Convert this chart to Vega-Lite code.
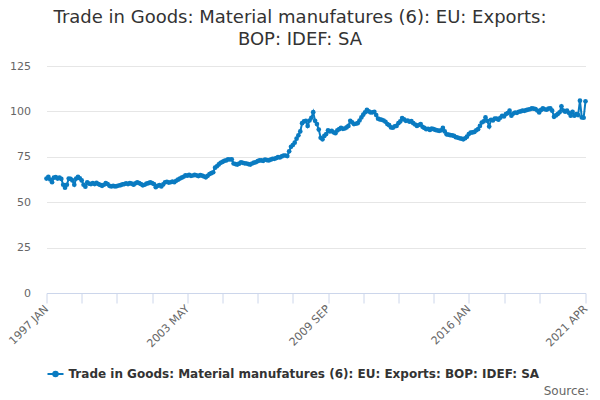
{
  "$schema": "https://vega.github.io/schema/vega-lite/v6.json",
  "width": 539,
  "height": 227,
  "autosize": "none",
  "padding": {"left": 46.5, "top": 66, "right": 14.5, "bottom": 107},
  "background": "white",
  "title": {
    "text": ["Trade in Goods: Material manufatures (6): EU: Exports:", "BOP: IDEF: SA"],
    "anchor": "middle",
    "frame": "group",
    "dx": -16,
    "offset": 11,
    "font": "DejaVu Sans",
    "fontSize": 18,
    "fontWeight": "normal",
    "color": "#333333",
    "lineHeight": 22
  },
  "data": {
    "values": [
      {"month": "1997 JAN", "value": 63}, {"month": "1997 FEB", "value": 64}, {"month": "1997 MAR", "value": 62.5}, {"month": "1997 APR", "value": 61},
      {"month": "1997 MAY", "value": 63.5}, {"month": "1997 JUN", "value": 63.8}, {"month": "1997 JUL", "value": 63}, {"month": "1997 AUG", "value": 63.5},
      {"month": "1997 SEP", "value": 62.8}, {"month": "1997 OCT", "value": 59.6}, {"month": "1997 NOV", "value": 58}, {"month": "1997 DEC", "value": 59.6},
      {"month": "1998 JAN", "value": 63}, {"month": "1998 FEB", "value": 62.8}, {"month": "1998 MAR", "value": 62}, {"month": "1998 APR", "value": 59.6},
      {"month": "1998 MAY", "value": 63}, {"month": "1998 JUN", "value": 64}, {"month": "1998 JUL", "value": 63.2}, {"month": "1998 AUG", "value": 62},
      {"month": "1998 SEP", "value": 59.6}, {"month": "1998 OCT", "value": 58.5}, {"month": "1998 NOV", "value": 61}, {"month": "1998 DEC", "value": 60.2},
      {"month": "1999 JAN", "value": 60}, {"month": "1999 FEB", "value": 60.5}, {"month": "1999 MAR", "value": 60}, {"month": "1999 APR", "value": 60.6},
      {"month": "1999 MAY", "value": 60}, {"month": "1999 JUN", "value": 59.5}, {"month": "1999 JUL", "value": 59}, {"month": "1999 AUG", "value": 59.6},
      {"month": "1999 SEP", "value": 60.5}, {"month": "1999 OCT", "value": 60}, {"month": "1999 NOV", "value": 59}, {"month": "1999 DEC", "value": 58.7},
      {"month": "2000 JAN", "value": 59}, {"month": "2000 FEB", "value": 58.7}, {"month": "2000 MAR", "value": 58.9}, {"month": "2000 APR", "value": 59.2},
      {"month": "2000 MAY", "value": 59.4}, {"month": "2000 JUN", "value": 59.8}, {"month": "2000 JUL", "value": 60}, {"month": "2000 AUG", "value": 60.4},
      {"month": "2000 SEP", "value": 60}, {"month": "2000 OCT", "value": 60.5}, {"month": "2000 NOV", "value": 60.2}, {"month": "2000 DEC", "value": 59.6},
      {"month": "2001 JAN", "value": 60.4}, {"month": "2001 FEB", "value": 61}, {"month": "2001 MAR", "value": 60.5}, {"month": "2001 APR", "value": 60},
      {"month": "2001 MAY", "value": 59.3}, {"month": "2001 JUN", "value": 59.6}, {"month": "2001 JUL", "value": 60.2}, {"month": "2001 AUG", "value": 60.5},
      {"month": "2001 SEP", "value": 61}, {"month": "2001 OCT", "value": 60.5}, {"month": "2001 NOV", "value": 60}, {"month": "2001 DEC", "value": 58.3},
      {"month": "2002 JAN", "value": 59}, {"month": "2002 FEB", "value": 59.4}, {"month": "2002 MAR", "value": 58.7}, {"month": "2002 APR", "value": 59.8},
      {"month": "2002 MAY", "value": 61}, {"month": "2002 JUN", "value": 61.2}, {"month": "2002 JUL", "value": 60.8}, {"month": "2002 AUG", "value": 61},
      {"month": "2002 SEP", "value": 61.3}, {"month": "2002 OCT", "value": 61}, {"month": "2002 NOV", "value": 61.8}, {"month": "2002 DEC", "value": 62.4},
      {"month": "2003 JAN", "value": 63}, {"month": "2003 FEB", "value": 63.5}, {"month": "2003 MAR", "value": 64}, {"month": "2003 APR", "value": 64.8},
      {"month": "2003 MAY", "value": 64.6}, {"month": "2003 JUN", "value": 65}, {"month": "2003 JUL", "value": 64.5}, {"month": "2003 AUG", "value": 64.7},
      {"month": "2003 SEP", "value": 65}, {"month": "2003 OCT", "value": 64.8}, {"month": "2003 NOV", "value": 64.4}, {"month": "2003 DEC", "value": 64.9},
      {"month": "2004 JAN", "value": 64.6}, {"month": "2004 FEB", "value": 64.2}, {"month": "2004 MAR", "value": 63.7}, {"month": "2004 APR", "value": 64.5},
      {"month": "2004 MAY", "value": 65.5}, {"month": "2004 JUN", "value": 66}, {"month": "2004 JUL", "value": 66.5}, {"month": "2004 AUG", "value": 69},
      {"month": "2004 SEP", "value": 69.8}, {"month": "2004 OCT", "value": 70.8}, {"month": "2004 NOV", "value": 71.7}, {"month": "2004 DEC", "value": 72.2},
      {"month": "2005 JAN", "value": 72.8}, {"month": "2005 FEB", "value": 73}, {"month": "2005 MAR", "value": 73.6}, {"month": "2005 APR", "value": 73.5},
      {"month": "2005 MAY", "value": 73.6}, {"month": "2005 JUN", "value": 71.3}, {"month": "2005 JUL", "value": 71}, {"month": "2005 AUG", "value": 70.7},
      {"month": "2005 SEP", "value": 71.2}, {"month": "2005 OCT", "value": 72}, {"month": "2005 NOV", "value": 71.7}, {"month": "2005 DEC", "value": 71.4},
      {"month": "2006 JAN", "value": 71.3}, {"month": "2006 FEB", "value": 71}, {"month": "2006 MAR", "value": 70.7}, {"month": "2006 APR", "value": 71.3},
      {"month": "2006 MAY", "value": 71.8}, {"month": "2006 JUN", "value": 72}, {"month": "2006 JUL", "value": 72.6}, {"month": "2006 AUG", "value": 73},
      {"month": "2006 SEP", "value": 73}, {"month": "2006 OCT", "value": 72.8}, {"month": "2006 NOV", "value": 73.5}, {"month": "2006 DEC", "value": 73.2},
      {"month": "2007 JAN", "value": 73}, {"month": "2007 FEB", "value": 73.4}, {"month": "2007 MAR", "value": 73.9}, {"month": "2007 APR", "value": 73.9},
      {"month": "2007 MAY", "value": 74.3}, {"month": "2007 JUN", "value": 74.8}, {"month": "2007 JUL", "value": 74.6}, {"month": "2007 AUG", "value": 75.2},
      {"month": "2007 SEP", "value": 75.7}, {"month": "2007 OCT", "value": 75.7}, {"month": "2007 NOV", "value": 75.4}, {"month": "2007 DEC", "value": 78},
      {"month": "2008 JAN", "value": 80.5}, {"month": "2008 FEB", "value": 81.5}, {"month": "2008 MAR", "value": 82.8}, {"month": "2008 APR", "value": 85},
      {"month": "2008 MAY", "value": 86.8}, {"month": "2008 JUN", "value": 89}, {"month": "2008 JUL", "value": 93.5}, {"month": "2008 AUG", "value": 94.5},
      {"month": "2008 SEP", "value": 94.8}, {"month": "2008 OCT", "value": 92}, {"month": "2008 NOV", "value": 95}, {"month": "2008 DEC", "value": 96.5},
      {"month": "2009 JAN", "value": 99.6}, {"month": "2009 FEB", "value": 94.8}, {"month": "2009 MAR", "value": 93}, {"month": "2009 APR", "value": 90},
      {"month": "2009 MAY", "value": 85.5}, {"month": "2009 JUN", "value": 84.6}, {"month": "2009 JUL", "value": 86.5}, {"month": "2009 AUG", "value": 87.5},
      {"month": "2009 SEP", "value": 89.6}, {"month": "2009 OCT", "value": 89}, {"month": "2009 NOV", "value": 89.3}, {"month": "2009 DEC", "value": 88.5},
      {"month": "2010 JAN", "value": 88}, {"month": "2010 FEB", "value": 89.5}, {"month": "2010 MAR", "value": 90.2}, {"month": "2010 APR", "value": 91},
      {"month": "2010 MAY", "value": 90.4}, {"month": "2010 JUN", "value": 90.6}, {"month": "2010 JUL", "value": 91.2}, {"month": "2010 AUG", "value": 92},
      {"month": "2010 SEP", "value": 94.8}, {"month": "2010 OCT", "value": 94}, {"month": "2010 NOV", "value": 93}, {"month": "2010 DEC", "value": 93.2},
      {"month": "2011 JAN", "value": 93.5}, {"month": "2011 FEB", "value": 95}, {"month": "2011 MAR", "value": 96.7}, {"month": "2011 APR", "value": 98.2},
      {"month": "2011 MAY", "value": 99.5}, {"month": "2011 JUN", "value": 100.9}, {"month": "2011 JUL", "value": 100}, {"month": "2011 AUG", "value": 99.4},
      {"month": "2011 SEP", "value": 99.5}, {"month": "2011 OCT", "value": 99.8}, {"month": "2011 NOV", "value": 98}, {"month": "2011 DEC", "value": 96},
      {"month": "2012 JAN", "value": 95.6}, {"month": "2012 FEB", "value": 95.4}, {"month": "2012 MAR", "value": 95}, {"month": "2012 APR", "value": 94.3},
      {"month": "2012 MAY", "value": 93}, {"month": "2012 JUN", "value": 92.4}, {"month": "2012 JUL", "value": 91.2}, {"month": "2012 AUG", "value": 91},
      {"month": "2012 SEP", "value": 91.8}, {"month": "2012 OCT", "value": 92}, {"month": "2012 NOV", "value": 93.5}, {"month": "2012 DEC", "value": 94.5},
      {"month": "2013 JAN", "value": 96.3}, {"month": "2013 FEB", "value": 95.6}, {"month": "2013 MAR", "value": 94.8}, {"month": "2013 APR", "value": 95},
      {"month": "2013 MAY", "value": 94.3}, {"month": "2013 JUN", "value": 94.6}, {"month": "2013 JUL", "value": 93.5}, {"month": "2013 AUG", "value": 92.8},
      {"month": "2013 SEP", "value": 92}, {"month": "2013 OCT", "value": 92.5}, {"month": "2013 NOV", "value": 93}, {"month": "2013 DEC", "value": 91.5},
      {"month": "2014 JAN", "value": 90.9}, {"month": "2014 FEB", "value": 90.2}, {"month": "2014 MAR", "value": 90.4}, {"month": "2014 APR", "value": 89.8},
      {"month": "2014 MAY", "value": 90.6}, {"month": "2014 JUN", "value": 90.2}, {"month": "2014 JUL", "value": 89.8}, {"month": "2014 AUG", "value": 89.5},
      {"month": "2014 SEP", "value": 89.3}, {"month": "2014 OCT", "value": 89.6}, {"month": "2014 NOV", "value": 90.9}, {"month": "2014 DEC", "value": 89},
      {"month": "2015 JAN", "value": 87.4}, {"month": "2015 FEB", "value": 87.2}, {"month": "2015 MAR", "value": 86.9}, {"month": "2015 APR", "value": 86.8},
      {"month": "2015 MAY", "value": 86.5}, {"month": "2015 JUN", "value": 85.8}, {"month": "2015 JUL", "value": 85.6}, {"month": "2015 AUG", "value": 85.2},
      {"month": "2015 SEP", "value": 85}, {"month": "2015 OCT", "value": 84.6}, {"month": "2015 NOV", "value": 85.2}, {"month": "2015 DEC", "value": 86.1},
      {"month": "2016 JAN", "value": 87.5}, {"month": "2016 FEB", "value": 88.3}, {"month": "2016 MAR", "value": 88.4}, {"month": "2016 APR", "value": 88.7},
      {"month": "2016 MAY", "value": 89.6}, {"month": "2016 JUN", "value": 90.2}, {"month": "2016 JUL", "value": 92}, {"month": "2016 AUG", "value": 93.9},
      {"month": "2016 SEP", "value": 94.5}, {"month": "2016 OCT", "value": 96.7}, {"month": "2016 NOV", "value": 94.8}, {"month": "2016 DEC", "value": 91.7},
      {"month": "2017 JAN", "value": 95.4}, {"month": "2017 FEB", "value": 95}, {"month": "2017 MAR", "value": 96.1}, {"month": "2017 APR", "value": 96},
      {"month": "2017 MAY", "value": 95.4}, {"month": "2017 JUN", "value": 96.5}, {"month": "2017 JUL", "value": 97.6}, {"month": "2017 AUG", "value": 97.2},
      {"month": "2017 SEP", "value": 98.5}, {"month": "2017 OCT", "value": 99}, {"month": "2017 NOV", "value": 100.4}, {"month": "2017 DEC", "value": 97.6},
      {"month": "2018 JAN", "value": 98.8}, {"month": "2018 FEB", "value": 99.4}, {"month": "2018 MAR", "value": 99.2}, {"month": "2018 APR", "value": 99.8},
      {"month": "2018 MAY", "value": 100}, {"month": "2018 JUN", "value": 100.4}, {"month": "2018 JUL", "value": 100.3}, {"month": "2018 AUG", "value": 100.7},
      {"month": "2018 SEP", "value": 101}, {"month": "2018 OCT", "value": 101.2}, {"month": "2018 NOV", "value": 101.7}, {"month": "2018 DEC", "value": 101.5},
      {"month": "2019 JAN", "value": 101.3}, {"month": "2019 FEB", "value": 100.5}, {"month": "2019 MAR", "value": 99.4}, {"month": "2019 APR", "value": 100.8},
      {"month": "2019 MAY", "value": 101.7}, {"month": "2019 JUN", "value": 101.2}, {"month": "2019 JUL", "value": 100.9}, {"month": "2019 AUG", "value": 101.5},
      {"month": "2019 SEP", "value": 101.7}, {"month": "2019 OCT", "value": 100.4}, {"month": "2019 NOV", "value": 97}, {"month": "2019 DEC", "value": 97.8},
      {"month": "2020 JAN", "value": 98.5}, {"month": "2020 FEB", "value": 99.5}, {"month": "2020 MAR", "value": 102.8}, {"month": "2020 APR", "value": 100.5},
      {"month": "2020 MAY", "value": 99.8}, {"month": "2020 JUN", "value": 100.4}, {"month": "2020 JUL", "value": 99.2}, {"month": "2020 AUG", "value": 97.6},
      {"month": "2020 SEP", "value": 99.8}, {"month": "2020 OCT", "value": 97.6}, {"month": "2020 NOV", "value": 98.5}, {"month": "2020 DEC", "value": 98},
      {"month": "2021 JAN", "value": 105.9}, {"month": "2021 FEB", "value": 96.7}, {"month": "2021 MAR", "value": 96.5}, {"month": "2021 APR", "value": 105.6}
    ]
  },
  "mark": {
    "type": "line",
    "strokeWidth": 2,
    "point": {"filled": true, "size": 22}
  },
  "encoding": {
    "x": {
      "field": "month",
      "type": "ordinal",
      "sort": null,
      "scale": {"type": "point", "padding": 0},
      "axis": {
        "values": ["1997 JAN", "1998 AUG", "2000 MAR", "2001 OCT", "2003 MAY", "2004 DEC", "2006 JUL", "2008 FEB", "2009 SEP", "2011 APR", "2012 NOV", "2014 JUN", "2016 JAN", "2017 AUG", "2019 MAR", "2021 APR"],
        "labelExpr": "datum.value == '1997 JAN' || datum.value == '2003 MAY' || datum.value == '2009 SEP' || datum.value == '2016 JAN' || datum.value == '2021 APR' ? datum.value : ''",
        "labelAngle": -45,
        "labelAlign": "right",
        "labelBaseline": "middle",
        "labelPadding": 4,
        "labelFont": "DejaVu Sans",
        "labelFontSize": 11,
        "labelColor": "#666666",
        "labelOverlap": false,
        "grid": false,
        "domainColor": "#ccd6eb",
        "tickColor": "#ccd6eb",
        "tickSize": 10,
        "title": "Source:",
        "titleAnchor": "end",
        "titleAlign": "right",
        "titleX": 542,
        "titleY": 101,
        "titleBaseline": "alphabetic",
        "titleFont": "DejaVu Sans",
        "titleFontSize": 12,
        "titleFontWeight": "normal",
        "titleColor": "#666666"
      }
    },
    "y": {
      "field": "value",
      "type": "quantitative",
      "scale": {"domain": [0, 125], "nice": false},
      "axis": {
        "values": [0, 25, 50, 75, 100, 125],
        "title": null,
        "domain": false,
        "ticks": false,
        "labelPadding": 16,
        "labelFont": "DejaVu Sans",
        "labelFontSize": 11,
        "labelColor": "#666666",
        "gridColor": "#e6e6e6"
      }
    },
    "color": {
      "datum": "Trade in Goods: Material manufatures (6): EU: Exports: BOP: IDEF: SA",
      "scale": {"range": ["#0a7bc1"]},
      "legend": {
        "title": null,
        "orient": "none",
        "legendX": 0,
        "legendY": 299,
        "symbolType": "M-1,0H1M0.28,0A0.28,0.28,0,1,1,-0.28,0A0.28,0.28,0,1,1,0.28,0",
        "symbolStrokeWidth": 2,
        "symbolSize": 256,
        "symbolFillColor": "#0a7bc1",
        "labelFont": "DejaVu Sans",
        "labelFontSize": 12,
        "labelFontWeight": "bold",
        "labelColor": "#333333",
        "labelLimit": 600
      }
    }
  },
  "config": {
    "view": {"stroke": null}
  }
}
